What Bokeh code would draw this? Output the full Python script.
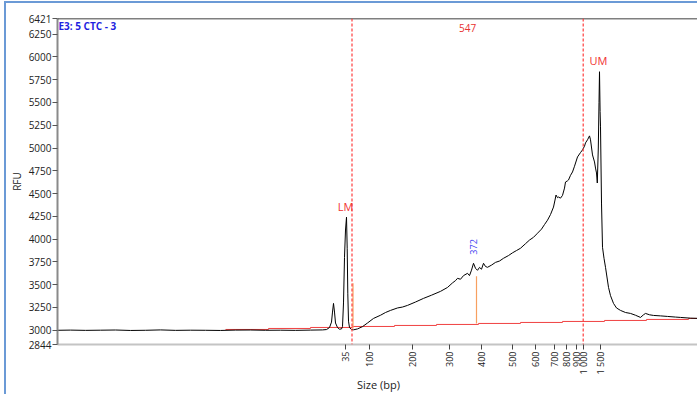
import math
from bokeh.plotting import figure
from bokeh.models import Span, Label, FixedTicker, Range1d
from bokeh.embed import file_html
from bokeh.resources import INLINE

# ---- data (migration time units, RFU) ----
trace_t = [0, 13, 28, 43, 58, 73, 88, 103, 118, 133, 148, 163, 178, 193, 208, 223, 238, 253, 265,
           269, 272, 274, 275, 276, 277, 278, 280, 282, 284, 285, 286, 287, 288, 289, 289.7, 290.3,
           291, 292, 294, 296, 300, 305, 310, 316, 323, 328, 333, 340, 345, 350, 358, 366, 374, 383,
           390, 395, 398, 400, 403, 406, 410, 412, 414, 416, 418, 420, 422, 424, 426, 428, 430, 434,
           438, 442, 446, 451, 455, 459, 463, 468, 472, 476, 480, 484, 487, 490, 493, 496, 497.5,
           498.5, 500, 501, 503, 505, 507, 508, 510, 511, 513, 515, 517, 520, 523, 525, 527, 528,
           530, 532, 533, 535, 537, 538, 539, 539.8, 540.8, 541.5, 542, 542.6, 543, 544, 545, 546.5,
           548, 551, 553, 556, 559, 563, 568, 573, 578, 583, 586, 588, 592, 596, 603, 610, 618, 623,
           633, 642]
trace_v = [3000, 3002, 2999, 3001, 3003, 2998, 3000, 3004, 2999, 3001, 3000, 2998, 3002, 3003, 3000,
           3001, 2999, 3002, 3004,
           3008, 3030, 3090, 3200, 3295, 3200, 3080, 3030, 3012, 3015, 3040, 3300, 3800, 4100, 4241,
           3900, 3400,
           3100, 3030, 3008, 3005, 3015, 3040, 3080, 3130, 3165, 3195, 3218, 3245, 3255, 3273, 3310,
           3350, 3385, 3427, 3470, 3520, 3545, 3570, 3560, 3600, 3625, 3600, 3660, 3735, 3680, 3658,
           3690, 3670, 3735, 3700, 3691, 3715, 3745, 3760, 3790, 3820, 3850, 3875, 3900, 3950, 3990,
           4020, 4065, 4110, 4160, 4208, 4270, 4352, 4429, 4484, 4455, 4462, 4450, 4480, 4560, 4627,
           4640, 4649, 4700, 4737, 4800, 4902, 4950, 4979, 5020, 5056, 5090, 5133, 5090, 4924, 4847,
           4780, 4726, 4616, 5000, 5500, 5837, 5400, 5232, 4396, 3911, 3790, 3691, 3471, 3380, 3295,
           3245, 3218, 3195, 3185, 3165, 3141, 3170, 3185, 3170, 3163, 3158, 3152, 3145, 3141, 3133,
           3130]

baseline_t = [168, 211, 253, 295, 337, 379, 421, 463, 505, 547, 589, 631, 642]
baseline_v = [3009, 3020, 3031, 3042, 3053, 3064, 3075, 3086, 3097, 3108, 3119, 3130, 3130]

marker_t = [295.5, 419]
marker_base = [3020, 3075]
marker_top = [3515, 3592]

lm_t, um_t = 294.5, 525.7          # ladder marker boundaries
region_size = "547"
peak_label = "372"

tick_sizes = ["35", "100", "200", "300", "400", "500", "600", "700", "800", "900", "1 000", "1 500"]
tick_times = [287.5, 312.3, 355.3, 392.3, 424.0, 455.3, 478.0, 496.7, 509.0, 519.3, 526.0, 542.7]
y_ticks = [2844, 3000, 3250, 3500, 3750, 4000, 4250, 4500, 4750, 5000, 5250, 5500, 5750, 6000, 6250, 6421]

FONT = "Open Sans"

p = figure(width=693, height=393, output_backend="svg", toolbar_location=None,
           x_range=Range1d(0, 642), y_range=Range1d(2844, 6421),
           min_border_left=51, min_border_right=0, min_border_top=15, min_border_bottom=52)
p.styles = {"margin-left": "4px", "margin-top": "1px",
            "border-left": "2px solid #6b9ad6", "border-top": "2px solid #6b9ad6"}
p.outline_line_color = None
p.xgrid.visible = False
p.ygrid.visible = False
p.background_fill_color = "white"
p.border_fill_color = "white"

# axes
p.yaxis.ticker = FixedTicker(ticks=y_ticks)
p.yaxis.axis_line_color = "#8a8a8a"
p.yaxis.axis_line_width = 2
p.yaxis.major_tick_line_color = "#555555"
p.yaxis.major_tick_out = 5
p.yaxis.major_tick_in = 0
p.yaxis.minor_tick_line_color = None
p.yaxis.major_label_text_font = FONT
p.yaxis.major_label_text_font_size = "10px"
p.yaxis.major_label_text_color = "#222222"
p.yaxis.major_label_standoff = 1
p.yaxis.axis_label = "RFU"
p.yaxis.axis_label_text_font = FONT
p.yaxis.axis_label_text_font_size = "10px"
p.yaxis.axis_label_text_font_style = "normal"
p.yaxis.axis_label_text_color = "#222222"
p.yaxis.axis_label_standoff = 2

p.xaxis.ticker = FixedTicker(ticks=tick_times)
p.xaxis.major_label_overrides = {t: s for t, s in zip(tick_times, tick_sizes)}
p.xaxis.major_label_orientation = math.pi / 2
p.xaxis.axis_line_color = "#c4c4c4"
p.xaxis.axis_line_width = 2
p.xaxis.major_tick_line_color = "#444444"
p.xaxis.major_tick_out = 5
p.xaxis.major_tick_in = 0
p.xaxis.minor_tick_line_color = None
p.xaxis.major_label_text_font = FONT
p.xaxis.major_label_text_font_size = "9px"
p.xaxis.major_label_text_color = "#222222"
p.xaxis.major_label_standoff = 2
p.xaxis.axis_label = "Size (bp)"
p.xaxis.axis_label_text_font = FONT
p.xaxis.axis_label_text_font_size = "11px"
p.xaxis.axis_label_text_font_style = "normal"
p.xaxis.axis_label_text_color = "#222222"
p.xaxis.axis_label_standoff = 0

# top frame line
p.add_layout(Span(location=6421, dimension="width", line_color="black", line_width=1.5))

# baseline (red step)
p.step(baseline_t, baseline_v, mode="after", line_color="#f04040", line_width=1)

# trace
p.line(trace_t, trace_v, line_color="black", line_width=1)

# peak markers
p.segment(x0=marker_t, y0=marker_base, x1=marker_t, y1=marker_top, line_color="#f7a060", line_width=1.2)

# ladder marker dashed lines
for t in (lm_t, um_t):
    p.add_layout(Span(location=t, dimension="height", line_color="#ff3b3b",
                      line_dash="3 2", line_width=1.2))

# labels
p.add_layout(Label(x=1, y=6338, text="E3: 5 CTC - 3", text_font=FONT, text_font_size="10px",
                   text_font_style="bold", text_color="#1f1fe0", text_baseline="middle"))
p.add_layout(Label(x=(lm_t + um_t) / 2, y=6315, text=region_size, text_font=FONT,
                   text_font_size="10px", text_color="#e83030", text_align="center",
                   text_baseline="middle"))
p.add_layout(Label(x=288, y=4275, text="LM", text_font=FONT, text_font_size="11px",
                   text_color="#f03030", text_align="center", text_baseline="bottom"))
p.add_layout(Label(x=541, y=5880, text="UM", text_font=FONT, text_font_size="11px",
                   text_color="#f03030", text_align="center", text_baseline="bottom"))
p.add_layout(Label(x=416, y=3830, text=peak_label, text_font=FONT, text_font_size="9px",
                   text_color="#3a3af0", text_align="left", text_baseline="middle",
                   angle=math.pi / 2))

open("out.html", "w").write(file_html(p, INLINE))
